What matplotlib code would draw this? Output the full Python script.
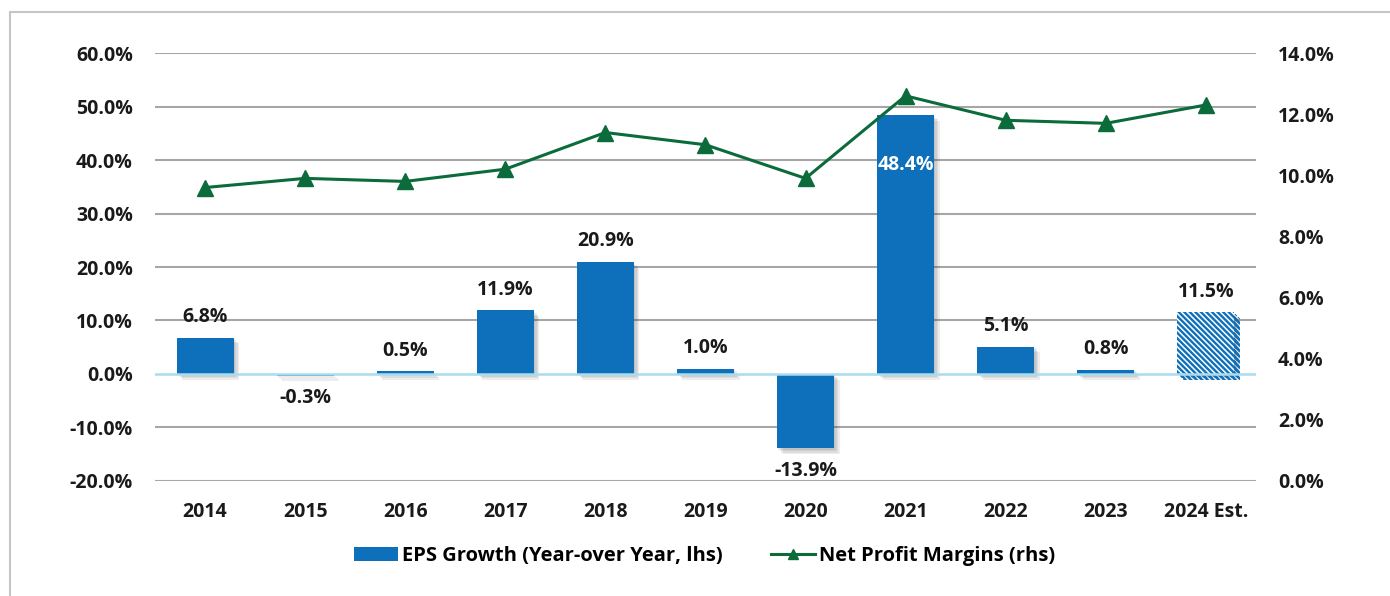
import matplotlib
matplotlib.use("Agg")
import matplotlib.pyplot as plt
import matplotlib.patheffects as pe
from matplotlib.patches import Rectangle, Patch
from matplotlib.lines import Line2D
from matplotlib.ticker import FuncFormatter

plt.rcParams['font.family'] = ['Open Sans', 'DejaVu Sans']
plt.rcParams['font.weight'] = 'bold'
plt.rcParams['hatch.linewidth'] = 1.7

# data
years = ['2014', '2015', '2016', '2017', '2018', '2019', '2020', '2021', '2022', '2023', '2024 Est.']
eps_growth = [6.8, -0.3, 0.5, 11.9, 20.9, 1.0, -13.9, 48.4, 5.1, 0.8, 11.5]
net_margin = [9.6, 9.9, 9.8, 10.2, 11.4, 11.0, 9.9, 12.6, 11.8, 11.7, 12.3]

BLUE = '#0e6fba'
GREEN = '#0b6b3a'
GRID = '#a6a6a6'
TXT = '#1a1a1a'
FS = 14

fig = plt.figure(figsize=(13.9, 5.96), dpi=100)
fig.patches.append(Rectangle((10 / 1390, -0.1), 1.2, 1.1 - 12 / 596, transform=fig.transFigure,
                             fill=False, edgecolor='#c8c4c0', linewidth=1.5))
ax = fig.add_axes([0.1115, 0.193, 0.792, 0.718])
ax2 = ax.twinx()

x = list(range(len(years)))
# soft drop shadow: a few stacked offsets
shadow = [pe.SimplePatchShadow(offset=(k, -k), shadow_rgbFace='#404040', alpha=0.09) for k in (1, 2, 3, 4)]
shadow.append(pe.Normal())
bars = ax.bar(x, eps_growth, width=0.57, color=BLUE, zorder=3)
for b in bars:
    b.set_path_effects(shadow)
bars[-1].set_facecolor('white')
bars[-1].set_edgecolor(BLUE)
bars[-1].set_hatch('\\' * 6)
bars[-1].set_linewidth(0)

for i, v in enumerate(eps_growth):
    if i == 7:
        ax.text(i, v - 9.3, f"{v:.1f}%", ha='center', va='center', color='white', fontsize=FS, fontweight='bold', zorder=5)
    elif v >= 0:
        ax.text(i, v + 2.0, f"{v:.1f}%", ha='center', va='bottom', color=TXT, fontsize=FS, fontweight='bold', zorder=5)
    else:
        ax.text(i, v - 2.4, f"{v:.1f}%", ha='center', va='top', color=TXT, fontsize=FS, fontweight='bold', zorder=5)

ax.set_ylim(-20, 60)
ax.set_yticks(range(-20, 61, 10))
ax.yaxis.set_major_formatter(FuncFormatter(lambda v, p: f"{v:.1f}%"))
ax.set_xlim(-0.5, len(years) - 0.5)
ax.set_xticks(x)
ax.set_xticklabels(years)
for y in range(-20, 61, 10):
    if y != 0:
        ax.axhline(y, color=GRID, linewidth=1.5, zorder=1)
ax.axhline(0, color='#a9dcee', linewidth=1.8, zorder=4)

ax2.plot(x, net_margin, color=GREEN, linewidth=2.2, marker='^', markersize=11, zorder=4)
ax2.set_ylim(0, 14)
ax2.set_yticks(range(0, 15, 2))
ax2.yaxis.set_major_formatter(FuncFormatter(lambda v, p: f"{v:.1f}%"))

for a in (ax, ax2):
    for s in a.spines.values():
        s.set_visible(False)
    a.tick_params(length=0, labelsize=FS, labelcolor=TXT)
ax.tick_params(axis='y', pad=16)
ax.tick_params(axis='x', pad=15)
ax2.tick_params(axis='y', pad=16)
ax2.set_zorder(ax.get_zorder() + 1)
ax2.patch.set_visible(False)

handles = [Patch(facecolor=BLUE, edgecolor='none'),
           Line2D([0], [0], color=GREEN, linewidth=2.2, marker='^', markersize=7)]
fig.legend(handles, ['EPS Growth (Year-over Year, lhs)', 'Net Profit Margins (rhs)'],
           loc='center', bbox_to_anchor=(0.507, 0.067), ncol=2, frameon=False,
           fontsize=14.5, columnspacing=2.4, handlelength=2.2, handletextpad=0.2)

fig.savefig('out.png', dpi=100)
